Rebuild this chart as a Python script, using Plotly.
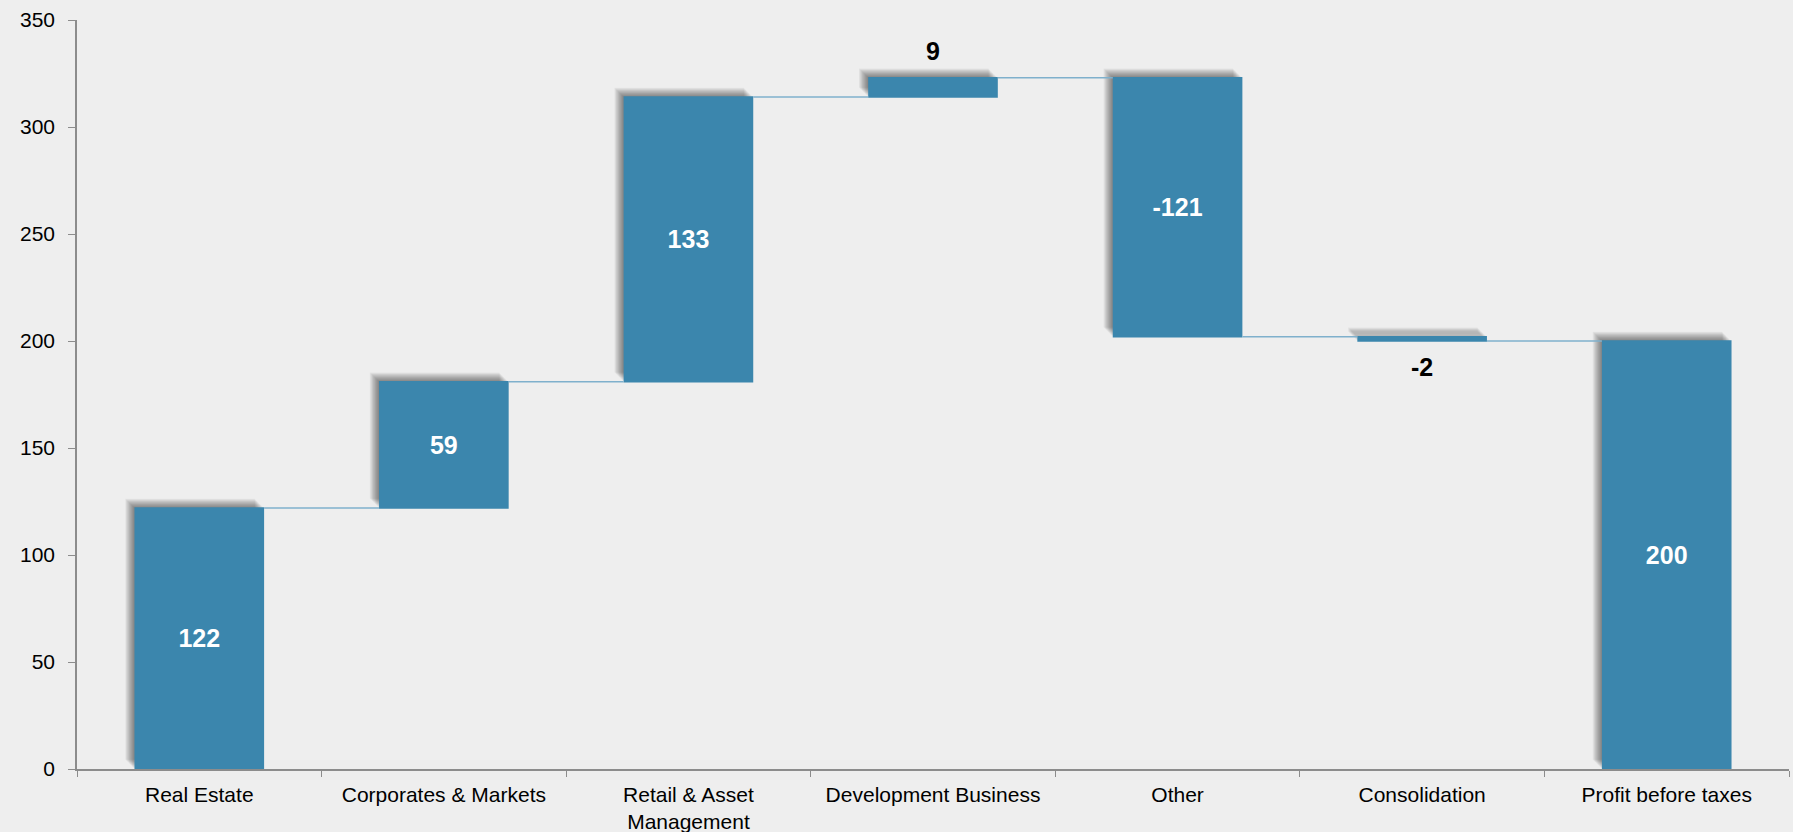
import plotly.graph_objects as go

categories = ["Real Estate", "Corporates & Markets", "Retail & Asset<br>Management",
              "Development Business", "Other", "Consolidation", "Profit before taxes"]
values = [122, 59, 133, 9, -121, -2, 200]
measures = ["relative", "relative", "relative", "relative", "relative", "relative", "total"]
label_positions = ["inside", "inside", "inside", "outside", "inside", "outside", "inside"]
y_ticks = [0, 50, 100, 150, 200, 250, 300, 350]

BAR_COLOR = "#3b86ad"
BG = "#eeeeee"
FONT = "Arial, 'Liberation Sans', sans-serif"

W, H = 1793, 832
M = dict(l=77, r=4, t=20, b=63)
plot_w = W - M["l"] - M["r"]
plot_h = H - M["t"] - M["b"]
px_per_cat = plot_w / len(categories)
px_per_unit = plot_h / (y_ticks[-1] - y_ticks[0])

bar_w = 0.53
fig = go.Figure()

# soft drop shadow (up-left), built from the same data
N_SHADOW = 12
for i in range(N_SHADOW):
    s = 1 + 0.75 * i
    fig.add_trace(go.Waterfall(
        x=categories, y=values, measure=measures,
        base=s / px_per_unit,
        width=bar_w, offset=-bar_w / 2 - s / px_per_cat,
        increasing=dict(marker=dict(color="rgba(0,0,0,0.045)")),
        decreasing=dict(marker=dict(color="rgba(0,0,0,0.045)")),
        totals=dict(marker=dict(color="rgba(0,0,0,0.045)")),
        connector=dict(visible=False),
        hoverinfo="skip", showlegend=False, textinfo="none",
    ))

LABEL_SIZE = 25
SPACER = "<span style='color:rgba(0,0,0,0)'>.</span>"
texts = []
for v, pos in zip(values, label_positions):
    if pos == "inside":
        texts.append(f"<b>{v}</b>")
    elif v >= 0:
        texts.append(f"<span style='font-size:{LABEL_SIZE}px'><b>{v}</b></span><br>{SPACER}")
    else:
        texts.append(f"{SPACER}<br>{SPACER}<br><span style='font-size:{LABEL_SIZE}px'><b>{v}</b></span>")

fig.add_trace(go.Waterfall(
    x=categories, y=values, measure=measures,
    width=bar_w, offset=-bar_w / 2,
    text=texts, textposition=label_positions, textinfo="text",
    insidetextanchor="middle",
    insidetextfont=dict(color="white", size=LABEL_SIZE, family=FONT),
    outsidetextfont=dict(color="black", size=9, family=FONT),
    increasing=dict(marker=dict(color=BAR_COLOR)),
    decreasing=dict(marker=dict(color=BAR_COLOR)),
    totals=dict(marker=dict(color=BAR_COLOR)),
    connector=dict(line=dict(color="#7fb0cc", width=1.5)),
    cliponaxis=False, showlegend=False,
))

fig.update_layout(
    width=W, height=H, margin=M,
    paper_bgcolor=BG, plot_bgcolor=BG,
    waterfallmode="overlay",
    font=dict(family=FONT, size=21, color="black"),
    xaxis=dict(
        type="category", showgrid=False, showline=True, linecolor="#8c8c8c", linewidth=1.5,
        ticks="outside", tickson="boundaries", ticklen=6, tickcolor="#8c8c8c",
        tickfont=dict(size=21), ticklabelstandoff=6, automargin=False,
    ),
    yaxis=dict(
        range=[y_ticks[0], y_ticks[-1]], tickvals=y_ticks, showgrid=False, zeroline=False,
        showline=True, linecolor="#8c8c8c", linewidth=1.5,
        ticks="outside", ticklen=7, tickcolor="#8c8c8c", tickfont=dict(size=21),
        ticklabelstandoff=9, automargin=False,
    ),
)

fig.write_html("out.html")
